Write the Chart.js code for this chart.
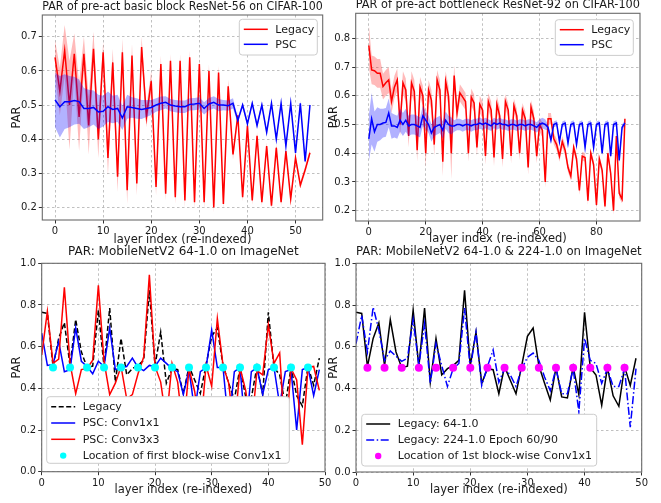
<!DOCTYPE html>
<html><head><meta charset="utf-8">
<script src="https://cdn.jsdelivr.net/npm/chart.js@4.4.0/dist/chart.umd.min.js"></script>
<style>
html,body{margin:0;padding:0;background:#fff;width:661px;height:503px;overflow:hidden}
body{position:relative}
canvas{position:absolute}
</style></head><body>
<canvas id="c1" width="336" height="250" style="left:0px;top:0px;width:336px;height:250px"></canvas>
<canvas id="c2" width="335" height="252" style="left:326px;top:-2px;width:335px;height:252px"></canvas>
<canvas id="c3" width="345" height="258" style="left:0px;top:245px;width:345px;height:258px"></canvas>
<canvas id="c4" width="335" height="258" style="left:326px;top:245px;width:335px;height:258px"></canvas>
<script>
// ---------- DATA ----------
// Panel 1: pre-act basic block ResNet-56 on CIFAR-100 (layers 0..53)
const legacy56 = [0.64,0.54,0.66,0.50,0.65,0.465,0.65,0.44,0.665,0.40,
  0.655,0.345,0.625,0.29,0.655,0.25,0.645,0.27,0.67,0.465,
  0.57,0.26,0.62,0.24,0.63,0.23,0.63,0.22,0.64,0.215,
  0.62,0.215,0.60,0.20,0.595,0.21,0.555,0.355,0.47,0.23,
  0.44,0.22,0.41,0.215,0.38,0.205,0.375,0.215,0.365,0.225,
  0.345,0.265,0.31,0.36];
const legacy56Std = [0.05,0.07,0.075,0.13,0.06,0.10,0.05,0.085,0.05,0.055,
  0.03,0.05,0.04,0.045,0.04,0.04,0.035,0.035,0.03,0.03,
  0.03,0.025,0.025,0.02,0.02,0.02,0.02,0.02,0.02,0.02,
  0.02,0.02,0.02,0.015,0.02,0.015,0.02,0.015,0.012,0.012,
  0.012,0.012,0.01,0.01,0.01,0.01,0.01,0.01,0.01,0.01,
  0.01,0.01,0.01,0.01];
const psc56 = [0.515,0.495,0.51,0.51,0.513,0.51,0.49,0.49,0.493,0.48,
  0.482,0.495,0.487,0.49,0.462,0.495,0.493,0.49,0.487,0.49,
  0.493,0.50,0.505,0.508,0.50,0.497,0.495,0.495,0.502,0.503,
  0.505,0.49,0.503,0.508,0.50,0.50,0.498,0.505,0.455,0.50,
  0.445,0.505,0.44,0.50,0.42,0.505,0.40,0.505,0.38,0.505,
  0.36,0.505,0.335,0.50];
const psc56Std = [0.08,0.09,0.08,0.075,0.07,0.065,0.06,0.055,0.05,0.05,
  0.045,0.045,0.04,0.04,0.035,0.035,0.03,0.03,0.028,0.025,
  0.022,0.02,0.02,0.018,0.018,0.018,0.018,0.018,0.018,0.018,
  0.018,0.018,0.018,0.018,0.018,0.015,0.015,0.015,0.008,0.008,
  0.008,0.008,0.008,0.008,0.008,0.008,0.008,0.008,0.008,0.008,
  0.008,0.008,0.008,0.008];

// Panel 2: pre-act bottleneck ResNet-92 on CIFAR-100 (layers 0..90)
const legacy92 = [0.775,0.69,0.687,0.678,0.678,0.632,0.645,0.655,0.58,0.63,
  0.655,0.50,0.645,0.62,0.46,0.645,0.615,0.41,0.63,0.60,
  0.40,0.62,0.585,0.43,0.655,0.62,0.37,0.65,0.60,0.40,
  0.67,0.54,0.61,0.595,0.58,0.40,0.595,0.575,0.42,0.57,
  0.55,0.39,0.58,0.55,0.385,0.57,0.53,0.38,0.58,0.55,
  0.39,0.565,0.53,0.40,0.55,0.52,0.35,0.56,0.52,0.39,
  0.50,0.48,0.30,0.52,0.52,0.45,0.43,0.39,0.44,0.41,
  0.35,0.32,0.42,0.38,0.27,0.39,0.385,0.235,0.40,0.36,
  0.22,0.38,0.34,0.215,0.40,0.33,0.20,0.46,0.26,0.24,
  0.52];
const legacy92Std = [0.075,0.05,0.05,0.05,0.05,0.045,0.045,0.045,0.04,0.04,
  0.04,0.04,0.04,0.04,0.04,0.04,0.04,0.04,0.035,0.035,
  0.05,0.035,0.035,0.04,0.035,0.035,0.05,0.035,0.035,0.09,
  0.035,0.03,0.03,0.03,0.03,0.03,0.03,0.03,0.03,0.03,
  0.03,0.03,0.03,0.03,0.03,0.03,0.03,0.03,0.025,0.025,
  0.025,0.025,0.025,0.025,0.025,0.025,0.025,0.025,0.025,0.025,
  0.025,0.025,0.02,0.02,0.02,0.02,0.02,0.02,0.02,0.02,
  0.015,0.015,0.015,0.015,0.015,0.015,0.015,0.015,0.015,0.015,
  0.015,0.015,0.015,0.015,0.015,0.015,0.015,0.015,0.015,0.015,
  0.015];
const psc92 = [0.45,0.52,0.475,0.50,0.50,0.505,0.507,0.54,0.495,0.495,
  0.49,0.515,0.50,0.515,0.495,0.50,0.50,0.495,0.49,0.53,
  0.515,0.50,0.47,0.49,0.495,0.50,0.48,0.515,0.50,0.495,
  0.495,0.50,0.50,0.495,0.50,0.50,0.495,0.50,0.50,0.505,
  0.50,0.505,0.50,0.495,0.505,0.50,0.505,0.50,0.50,0.495,
  0.50,0.50,0.495,0.50,0.50,0.495,0.50,0.50,0.495,0.49,
  0.50,0.505,0.50,0.49,0.445,0.50,0.505,0.44,0.50,0.505,
  0.435,0.50,0.505,0.43,0.50,0.505,0.42,0.50,0.505,0.42,
  0.50,0.505,0.40,0.50,0.505,0.39,0.50,0.505,0.375,0.49,
  0.505];
const psc92Std = [0.08,0.09,0.07,0.06,0.055,0.05,0.05,0.05,0.045,0.04,
  0.04,0.04,0.04,0.04,0.035,0.035,0.035,0.035,0.035,0.035,
  0.03,0.03,0.03,0.03,0.03,0.03,0.03,0.03,0.03,0.03,
  0.02,0.02,0.02,0.02,0.02,0.02,0.02,0.02,0.02,0.02,
  0.018,0.018,0.018,0.018,0.018,0.018,0.018,0.018,0.018,0.018,
  0.018,0.018,0.018,0.018,0.018,0.018,0.018,0.018,0.018,0.018,
  0.018,0.018,0.018,0.01,0.01,0.01,0.01,0.01,0.01,0.01,
  0.01,0.01,0.01,0.01,0.01,0.01,0.01,0.01,0.01,0.01,
  0.01,0.01,0.01,0.01,0.01,0.01,0.01,0.01,0.01,0.01,
  0.01];

// Panels 3 & 4: MobileNetV2 on ImageNet (layers 0..49)
const legacy64 = [0.765,0.76,0.505,0.64,0.715,0.51,0.73,0.575,0.50,0.507,
  0.775,0.505,0.785,0.43,0.64,0.465,0.495,0.51,0.535,0.87,
  0.51,0.67,0.425,0.495,0.49,0.375,0.505,0.44,0.375,0.51,
  0.65,0.69,0.51,0.425,0.345,0.50,0.36,0.355,0.505,0.37,
  0.765,0.50,0.465,0.32,0.50,0.365,0.315,0.505,0.415,0.545];
const legacy224 = [0.615,0.75,0.575,0.79,0.68,0.535,0.58,0.555,0.53,0.545,
  0.73,0.51,0.71,0.425,0.615,0.51,0.41,0.495,0.52,0.785,
  0.495,0.67,0.415,0.505,0.585,0.43,0.495,0.465,0.41,0.495,
  0.55,0.57,0.535,0.455,0.39,0.495,0.375,0.375,0.495,0.29,
  0.64,0.535,0.52,0.425,0.495,0.41,0.41,0.495,0.215,0.495];
const pscConv1x1 = [0.665,0.51,0.515,0.625,0.48,0.49,0.69,0.53,0.505,0.47,
  0.53,0.505,0.69,0.49,0.50,0.505,0.545,0.50,0.485,0.51,
  0.505,0.545,0.52,0.495,0.48,0.37,0.49,0.29,0.48,0.50,
  0.68,0.50,0.50,0.22,0.48,0.50,0.18,0.48,0.50,0.37,
  0.49,0.50,0.32,0.48,0.49,0.20,0.49,0.50,0.365,0.49];
const pscConv3x3 = [0.56,0.77,0.52,0.54,0.885,0.52,0.375,0.49,0.495,0.535,
  0.895,0.53,0.37,0.425,0.505,0.35,0.37,0.47,0.55,0.945,
  0.505,0.43,0.24,0.52,0.43,0.19,0.495,0.385,0.18,0.51,
  0.41,0.735,0.51,0.425,0.19,0.50,0.39,0.20,0.485,0.465,
  0.705,0.52,0.57,0.14,0.495,0.44,0.13,0.50,0.505,0.39];
const blockLayers = [2,5,8,11,14,17,20,23,26,29,32,35,38,41,44,47];
const blockPAR    = [0.5,0.5,0.5,0.5,0.5,0.5,0.5,0.5,0.5,0.5,0.5,0.5,0.5,0.5,0.5,0.5];

// Tick values
const xTicks50 = [0,10,20,30,40,50];
const xTicks90 = [0,20,40,60,80];
const yTicks56 = [0.2,0.3,0.4,0.5,0.6,0.7];
const yTicks92 = [0.2,0.3,0.4,0.5,0.6,0.7,0.8];
const yTicksImageNet = [0.0,0.2,0.4,0.6,0.8,1.0];

const xTitle = 'layer index (re-indexed)';
const yTitle = 'PAR';

// ---------- HELPERS ----------
const pts = (vals) => vals.map((v, i) => ({x: i, y: v}));
const ptsUp = (vals, sd) => vals.map((v, i) => ({x: i, y: v + sd[i]}));
const ptsLo = (vals, sd) => vals.map((v, i) => ({x: i, y: v - sd[i]}));
const ptsXY = (xs, ys) => xs.map((x, i) => ({x: x, y: ys[i]}));

Chart.defaults.font.family = "'DejaVu Sans', sans-serif";
Chart.defaults.color = '#1a1a1a';

const mplPlugin = {
  id: 'mpl',
  afterDatasetsDraw(chart) {
    const {ctx, chartArea: a} = chart;
    ctx.save();
    ctx.strokeStyle = '#6a6a6a';
    ctx.lineWidth = 1.1;
    ctx.setLineDash([]);
    ctx.strokeRect(a.left, a.top, a.right - a.left, a.bottom - a.top);
    ctx.restore();
  },
  afterDraw(chart, args, opts) {
    const L = opts && opts.box;
    if (!L) return;
    const {ctx, chartArea: a} = chart;
    const x0 = L.right ? a.right - L.dx - L.w : a.left + L.dx;
    const y0 = L.top ? a.top + L.dy : a.bottom - L.dy - L.h;
    ctx.save();
    const r = 3;
    ctx.beginPath();
    ctx.moveTo(x0 + r, y0);
    ctx.arcTo(x0 + L.w, y0, x0 + L.w, y0 + L.h, r);
    ctx.arcTo(x0 + L.w, y0 + L.h, x0, y0 + L.h, r);
    ctx.arcTo(x0, y0 + L.h, x0, y0, r);
    ctx.arcTo(x0, y0, x0 + L.w, y0, r);
    ctx.closePath();
    ctx.fillStyle = '#ffffff';
    ctx.fill();
    ctx.strokeStyle = '#cccccc';
    ctx.lineWidth = 1;
    ctx.stroke();
    const items = chart.data.datasets.filter(d => d.legendRank !== undefined)
      .sort((p, q) => p.legendRank - q.legendRank);
    items.forEach((d, k) => {
      const y = y0 + L.first + k * L.step;
      if (d.showLine === false) {
        ctx.beginPath();
        ctx.fillStyle = d.pointBackgroundColor;
        ctx.arc(x0 + 16.5, y, 3.2, 0, Math.PI * 2);
        ctx.fill();
      } else {
        ctx.beginPath();
        ctx.setLineDash(d.borderDash || []);
        ctx.strokeStyle = d.borderColor;
        ctx.lineWidth = d.borderWidth;
        ctx.moveTo(x0 + 4.5, y);
        ctx.lineTo(x0 + 28.5, y);
        ctx.stroke();
        ctx.setLineDash([]);
      }
      ctx.fillStyle = '#1a1a1a';
      ctx.font = "11px 'DejaVu Sans', sans-serif";
      ctx.textBaseline = 'middle';
      ctx.textAlign = 'left';
      ctx.fillText(d.label, x0 + 36, y + 0.5);
    });
    ctx.restore();
  }
};

function lineDs(label, data, color, order, extra) {
  return Object.assign({type: 'line', label, data, borderColor: color, backgroundColor: color,
    borderWidth: 1.5, pointRadius: 0, tension: 0, fill: false, order}, extra || {});
}
function bandDs(data, color, order, target) {
  return {type: 'line', data, borderWidth: 0, borderColor: 'rgba(0,0,0,0)', pointRadius: 0,
    tension: 0, order, backgroundColor: color,
    fill: target === undefined ? false : {target: target}};
}

function makeChart(id, c) {
  const grid = {color: '#b0b0b0', lineWidth: 0.8, tickColor: '#333', tickLength: 3.5, tickWidth: 1, tickBorderDash: []};
  return new Chart(document.getElementById(id), {
    type: 'line',
    data: {datasets: c.datasets},
    plugins: [mplPlugin],
    options: {
      responsive: false, animation: false, events: [],
      layout: {padding: {left: 0, right: c.padRight, top: 0, bottom: 0}},
      plugins: {
        legend: {display: false}, tooltip: {enabled: false},
        title: {display: true, text: c.title, fullSize: false, color: '#1a1a1a',
          font: {size: 12, weight: 'normal', lineHeight: 1.2}, padding: {top: 0, bottom: c.titlePad}},
        mpl: {box: c.legend}
      },
      scales: {
        x: {type: 'linear', min: c.xMin, max: c.xMax,
          afterFit: s => { s.height = c.xHeight; },
          afterBuildTicks: s => { s.ticks = c.xTicks.map(v => ({value: v})); },
          ticks: {autoSkip: false, maxRotation: 0,
            font: {size: 10}, color: '#1a1a1a', padding: 2, callback: v => String(v)},
          grid: grid,
          border: {display: false, dash: [2.5, 2.5]},
          title: {display: true, text: xTitle, color: '#1a1a1a', font: {size: 11.5, lineHeight: 1.2},
            padding: {top: 0, bottom: c.xTitlePad}}},
        y: {type: 'linear', min: c.yMin, max: c.yMax,
          afterFit: s => { s.width = c.yWidth; },
          afterBuildTicks: s => { s.ticks = c.yTicks.map(v => ({value: v})); },
          ticks: {autoSkip: false,
            font: {size: 10}, color: '#1a1a1a', padding: 2, callback: v => Number(v).toFixed(1)},
          grid: grid,
          border: {display: false, dash: [2.5, 2.5]},
          title: {display: true, text: yTitle, color: '#1a1a1a', font: {size: 11.5, lineHeight: 1.2},
            padding: {top: c.yTitlePad, bottom: 0}}}
      }
    }
  });
}

const RED = '#ff0000', BLUE = '#0000ff';
const RED_BAND = 'rgba(255,0,0,0.27)', BLUE_BAND = 'rgba(0,0,255,0.3)';

// Panel 1
makeChart('c1', {
  title: 'PAR of pre-act basic block ResNet-56 on CIFAR-100',
  datasets: [
    lineDs('Legacy', pts(legacy56), RED, 2, {legendRank: 0}),
    lineDs('PSC', pts(psc56), BLUE, 0, {legendRank: 1}),
    bandDs(ptsUp(legacy56, legacy56Std), RED_BAND, 3),
    bandDs(ptsLo(legacy56, legacy56Std), RED_BAND, 3, 2),
    bandDs(ptsUp(psc56, psc56Std), BLUE_BAND, 1),
    bandDs(ptsLo(psc56, psc56Std), BLUE_BAND, 1, 4)
  ],
  xMin: -2.65, xMax: 55.65, xTicks: xTicks50, yMin: 0.163, yMax: 0.764, yTicks: yTicks56,
  padRight: 13.3, yWidth: 42.3, xHeight: 30, titlePad: 0.6, xTitlePad: 3.1, yTitlePad: 10.1,
  legend: {right: true, top: true, dx: 5.4, dy: 4.3, w: 78, h: 35.7, first: 10, step: 15}
});

// Panel 2
makeChart('c2', {
  title: 'PAR of pre-act bottleneck ResNet-92 on CIFAR-100',
  datasets: [
    lineDs('Legacy', pts(legacy92), RED, 2, {legendRank: 0}),
    lineDs('PSC', pts(psc92), BLUE, 0, {legendRank: 1}),
    bandDs(ptsUp(legacy92, legacy92Std), RED_BAND, 3),
    bandDs(ptsLo(legacy92, legacy92Std), RED_BAND, 3, 2),
    bandDs(ptsUp(psc92, psc92Std), BLUE_BAND, 1),
    bandDs(ptsLo(psc92, psc92Std), BLUE_BAND, 1, 4)
  ],
  xMin: -4.6, xMax: 95.3, xTicks: xTicks90, yMin: 0.164, yMax: 0.887, yTicks: yTicks92,
  padRight: 21, yWidth: 29.7, xHeight: 29, titlePad: 0.9, xTitlePad: 3.6, yTitlePad: 1.1,
  legend: {right: true, top: true, dx: 6.7, dy: 6.4, w: 78, h: 35.7, first: 10, step: 15}
});

// Panel 3
makeChart('c3', {
  title: 'PAR: MobileNetV2 64-1.0 on ImageNet',
  datasets: [
    lineDs('Legacy', pts(legacy64), '#000000', 3, {legendRank: 0, borderDash: [5, 2.5]}),
    lineDs('PSC: Conv1x1', pts(pscConv1x1), BLUE, 2, {legendRank: 1}),
    lineDs('PSC: Conv3x3', pts(pscConv3x3), RED, 1, {legendRank: 2}),
    {type: 'line', label: 'Location of first block-wise Conv1x1', data: ptsXY(blockLayers, blockPAR),
      showLine: false, pointRadius: 4, pointBorderWidth: 0, pointBackgroundColor: '#00ffff',
      pointBorderColor: '#00ffff', order: 0, legendRank: 3}
  ],
  xMin: 0, xMax: 50, xTicks: xTicks50, yMin: 0, yMax: 1, yTicks: yTicksImageNet,
  padRight: 20, yWidth: 41.7, xHeight: 31.3, titlePad: 3.9, xTitlePad: 6.1, yTitlePad: 10.6,
  legend: {right: false, top: false, dx: 5, dy: 8.4, w: 242.6, h: 66.6, first: 10, step: 16.3}
});

// Panel 4
makeChart('c4', {
  title: 'PAR: MobileNetV2 64-1.0 & 224-1.0 on ImageNet',
  datasets: [
    lineDs('Legacy: 64-1.0', pts(legacy64), '#000000', 2, {legendRank: 0}),
    lineDs('Legacy: 224-1.0 Epoch 60/90', pts(legacy224), BLUE, 1, {legendRank: 1, borderDash: [8, 2.5, 1.5, 2.5]}),
    {type: 'line', label: 'Location of 1st block-wise Conv1x1', data: ptsXY(blockLayers, blockPAR),
      showLine: false, pointRadius: 4, pointBorderWidth: 0, pointBackgroundColor: '#ff00ff',
      pointBorderColor: '#ff00ff', order: 0, legendRank: 2}
  ],
  xMin: 0, xMax: 50, xTicks: xTicks50, yMin: 0, yMax: 1, yTicks: yTicksImageNet,
  padRight: 19.3, yWidth: 30, xHeight: 31, titlePad: 3.9, xTitlePad: 6.1, yTitlePad: 1.1,
  legend: {right: false, top: false, dx: 5.7, dy: 6, w: 235, h: 51.7, first: 9.7, step: 16}
});
</script>
</body></html>
